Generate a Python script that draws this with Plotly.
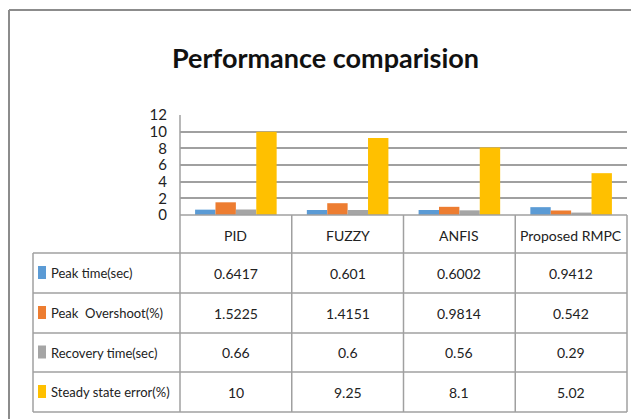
import plotly.graph_objects as go

# Controllers compared and the measured indices for each
categories = ["PID", "FUZZY", "ANFIS", "Proposed RMPC"]
series_names = ["Peak time(sec)", "Peak  Overshoot(%)", "Recovery time(sec)", "Steady state error(%)"]
peak_time = [0.6417, 0.601, 0.6002, 0.9412]
peak_overshoot = [1.5225, 1.4151, 0.9814, 0.542]
recovery_time = [0.66, 0.6, 0.56, 0.29]
steady_state_error = [10, 9.25, 8.1, 5.02]
y_ticks = [0, 2, 4, 6, 8, 10, 12]

series_values = [peak_time, peak_overshoot, recovery_time, steady_state_error]
colors = ["#5B9BD5", "#ED7D31", "#A5A5A5", "#FFC000"]

W, H = 631, 419
FONT = "Lato, Liberation Sans, sans-serif"
LINE = "#a0a0a0"
TXT = "#222222"


def fx(x):
    return x / W


def fy(y):
    return 1 - y / H


# plot area in pixels
PL, PR, PT, PB = 180, 627, 115, 215
ROWS = [253, 293, 333, 372, 412]
LABEL_LEFT = 33

fig = go.Figure()
for name, vals, col in zip(series_names, series_values, colors):
    fig.add_trace(go.Bar(x=categories, y=vals, name=name, marker_color=col,
                         marker_line_width=0, showlegend=False))

fig.update_layout(
    width=W, height=H,
    margin=dict(l=0, r=0, t=0, b=0, autoexpand=False),
    paper_bgcolor="white", plot_bgcolor="white",
    barmode="group", bargap=0.27, bargroupgap=0,
    xaxis=dict(domain=[fx(PL), fx(PR)], showticklabels=False, showgrid=False,
               zeroline=False, showline=False, ticks=""),
    yaxis=dict(domain=[fy(PB), fy(PT)], range=[0, 12], tickvals=y_ticks,
               showgrid=True, gridcolor=LINE, gridwidth=1.8, zeroline=False,
               showline=False, ticks="", ticklabelstandoff=12,
               tickfont=dict(family=FONT, size=15, color=TXT)),
    font=dict(family=FONT, color=TXT),
)

shapes = []


def hline(x0, x1, y, w=1.5, c=LINE):
    shapes.append(dict(type="line", xref="paper", yref="paper",
                       x0=fx(x0), x1=fx(x1), y0=fy(y), y1=fy(y),
                       line=dict(color=c, width=w)))


def vline(x, y0, y1, w=1.5, c=LINE):
    shapes.append(dict(type="line", xref="paper", yref="paper",
                       x0=fx(x), x1=fx(x), y0=fy(y0), y1=fy(y1),
                       line=dict(color=c, width=w)))


# outer chart frame
hline(9, W + 2, 10, 2, "#8c8c8c")
vline(9, 10, H + 2, 2, "#8c8c8c")

# axis line and the data table grid
hline(PL, PR, PB)
vline(PL, PT, ROWS[-1])
n = len(categories)
colw = (PR - PL) / n
for i in range(1, n + 1):
    vline(PL + i * colw, PB, ROWS[-1])
for r in ROWS:
    hline(LABEL_LEFT, PR, r)
vline(LABEL_LEFT, ROWS[0], ROWS[-1])


def label(x, y, text, size, xanchor="center", color=TXT):
    return dict(xref="paper", yref="paper", x=fx(x), y=fy(y), text=text,
                xanchor=xanchor, yanchor="middle", showarrow=False,
                font=dict(size=size, family=FONT, color=color))


annotations = []
for i, cat in enumerate(categories):
    annotations.append(label(PL + (i + 0.5) * colw, (PB + ROWS[0]) / 2 + 1, cat, 14))

for j, (name, vals, col) in enumerate(zip(series_names, series_values, colors)):
    yc = (ROWS[j] + ROWS[j + 1]) / 2
    shapes.append(dict(type="rect", xref="paper", yref="paper",
                       x0=fx(38), x1=fx(46), y0=fy(yc + 6), y1=fy(yc - 7),
                       fillcolor=col, line=dict(width=0)))
    annotations.append(label(49, yc, name, 13, xanchor="left"))
    for i, v in enumerate(vals):
        annotations.append(label(PL + (i + 0.5) * colw, yc, f"{v:g}", 14))

annotations.append(label(325, 58, "<b>Performance comparision</b>", 27, color="#111"))

fig.update_layout(shapes=shapes, annotations=annotations)
fig.write_html("out.html", post_script="document.body.style.margin='0';")
